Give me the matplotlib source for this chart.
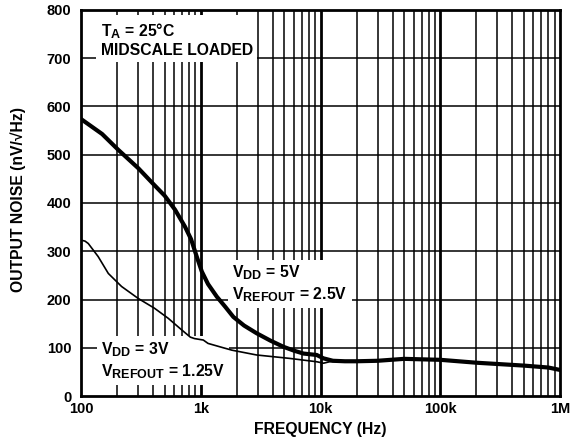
import matplotlib
matplotlib.use("Agg")
import matplotlib.pyplot as plt
from matplotlib import _mathtext

plt.rcParams['font.family'] = ['Liberation Sans', 'DejaVu Sans']
plt.rcParams['font.weight'] = 'bold'
plt.rcParams['mathtext.fontset'] = 'custom'
plt.rcParams['mathtext.rm'] = 'Liberation Sans:bold'
plt.rcParams['mathtext.it'] = 'Liberation Sans:bold'
plt.rcParams['mathtext.bf'] = 'Liberation Sans:bold'
# subscripts in the original are only a bit smaller than the main text
_mathtext.SHRINK_FACTOR = 0.8

# VDD = 5V, VREFOUT = 2.5V
f_5v = [100, 150, 205, 301, 410, 500, 610, 738, 830, 925, 1020, 1150, 1360, 1600,
        1870, 2300, 2930, 3800, 4900, 6000, 7200, 9300, 10600, 12700, 16000,
        20000, 30000, 50000, 70000, 100000, 200000, 500000, 800000, 1000000]
n_5v = [574, 543, 510, 472, 437, 415, 386, 351, 325, 289, 258, 232, 206, 185,
        164, 146, 130, 115, 102, 94, 88, 85, 78, 73, 72,
        72, 73, 77, 76, 75, 69, 63, 59, 54]

# VDD = 3V, VREFOUT = 1.25V
f_3v = [100, 108, 115, 139, 169, 218, 301, 410, 535, 693, 818, 887, 1050, 1150,
        1540, 1820, 2930, 5500, 9300, 10600, 11900, 14000, 20000, 30000, 50000,
        70000, 100000, 200000, 500000, 800000, 1000000]
n_3v = [323, 321, 316, 289, 254, 227, 202, 182, 161, 137, 122, 119, 116, 109,
        100, 95, 85, 78, 71, 68, 71, 72, 72, 73, 77,
        76, 75, 69, 63, 59, 54]

fig = plt.figure(figsize=(5.73, 4.44), dpi=100)
ax = fig.add_axes([0.1414, 0.1081, 0.8359, 0.8694])

ax.set_xscale('log')
ax.set_xlim(100, 1e6)
ax.set_ylim(0, 800)

# grid: every 1..9 per decade, heavier at the decades
for dec in [100, 1000, 10000, 100000]:
    for m in range(1, 10):
        f = dec * m
        if f <= 100 or f >= 1e6:
            continue
        ax.axvline(f, color='black', lw=2.0 if m == 1 else 1.1, zorder=1)
for v in range(100, 800, 100):
    ax.axhline(v, color='black', lw=1.1, zorder=1)

# curves sit above the white label boxes
ax.plot(f_5v, n_5v, color='black', lw=3.0, zorder=5, solid_joinstyle='round')
ax.plot(f_3v, n_3v, color='black', lw=1.2, zorder=5, solid_joinstyle='round')

ax.set_xticks([100, 1000, 10000, 100000, 1000000])
ax.set_xticklabels(['100', '1k', '10k', '100k', '1M'])
ax.xaxis.set_minor_locator(matplotlib.ticker.NullLocator())
ax.set_yticks(range(0, 801, 100))
ax.tick_params(length=0, labelsize=10.5)
ax.tick_params(axis='x', pad=4)
ax.tick_params(axis='y', pad=7)
for lab in ax.get_xticklabels() + ax.get_yticklabels():
    lab.set_fontweight('bold')
for s in ax.spines.values():
    s.set_linewidth(2.0)

ax.set_xlabel('FREQUENCY (Hz)', fontsize=11.3, fontweight='bold')
ax.xaxis.set_label_coords(0.5, -0.088)
ax.xaxis.label.set_va('center')
ax.set_ylabel('OUTPUT NOISE (nV/\u221aHz)', fontsize=11.3, fontweight='bold')
ax.yaxis.set_label_coords(-0.131, 0.51)
ax.yaxis.label.set_va('center')

box = dict(facecolor='white', edgecolor='none', pad=3)
ax.text(146, 777, 'T$_\\mathrm{A}$ = 25\u00b0C\nMIDSCALE LOADED', fontsize=11.3,
        fontweight='bold', va='top', ha='left', bbox=box, zorder=4,
        linespacing=1.2)
ax.text(1840, 274, 'V$_\\mathrm{DD}$ = 5V\nV$_\\mathrm{REFOUT}$ = 2.5V', fontsize=11.3,
        fontweight='bold', va='top', ha='left', bbox=box, zorder=4,
        linespacing=1.2)
ax.text(147, 115, 'V$_\\mathrm{DD}$ = 3V\nV$_\\mathrm{REFOUT}$ = 1.25V', fontsize=11.3,
        fontweight='bold', va='top', ha='left', bbox=box, zorder=4,
        linespacing=1.2)

fig.savefig('out.png', dpi=100)
